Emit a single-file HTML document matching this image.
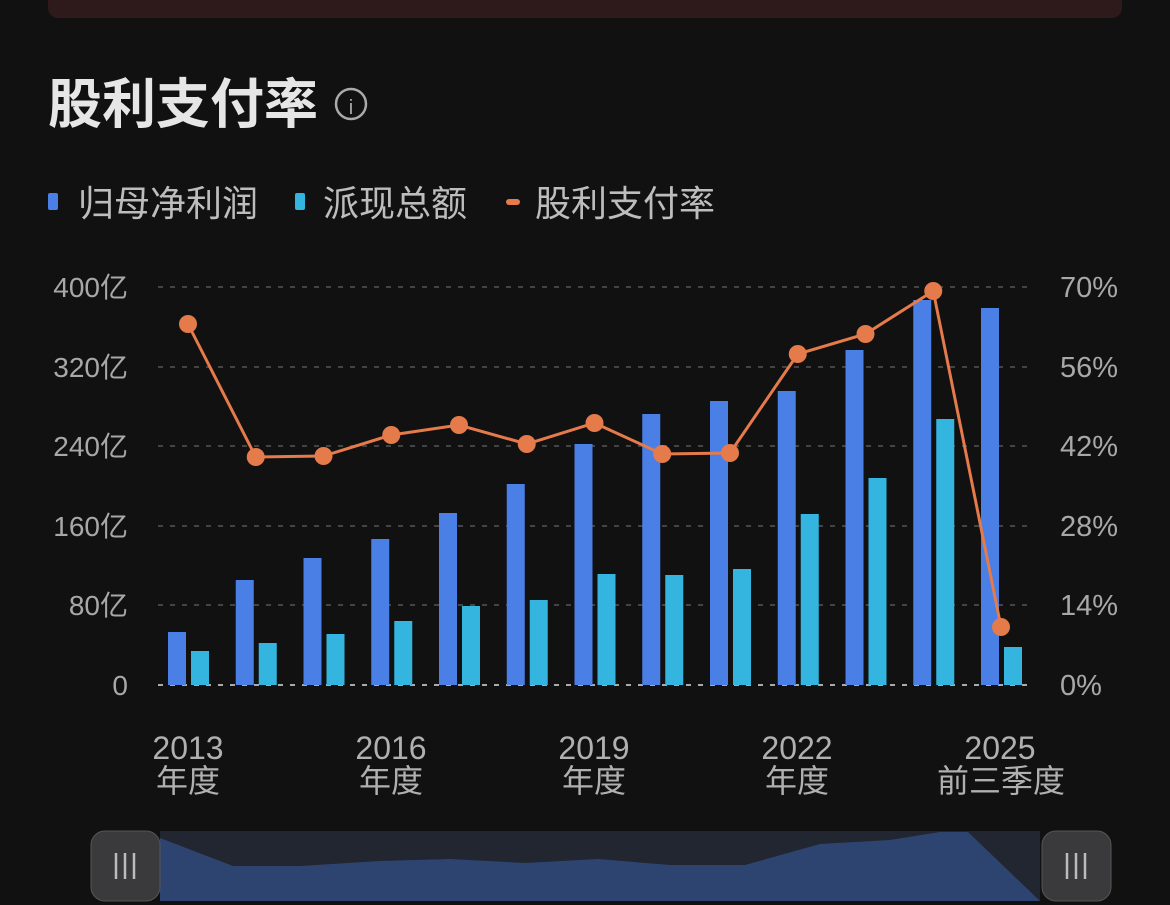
<!DOCTYPE html>
<html><head><meta charset="utf-8"><style>
body{margin:0;background:#111112;width:1170px;height:905px;overflow:hidden;font-family:"Liberation Sans","Noto Sans CJK SC",sans-serif}
</style></head><body>
<svg width="1170" height="905" xmlns="http://www.w3.org/2000/svg" style="position:absolute;left:0;top:0">
<rect x="48" y="-20" width="1074" height="38" rx="10" fill="#2e1a1b"/>
<text x="48" y="123" font-size="54" font-weight="bold" fill="#e6e6e6" font-family="Liberation Sans,Noto Sans CJK SC,sans-serif">股利支付率</text>
<circle cx="351" cy="104" r="15" fill="none" stroke="#aaa" stroke-width="2.5"/>
<text x="351" y="114" font-size="20" fill="#aaa" text-anchor="middle">i</text>
<g font-size="36" fill="#bdbdbd">
<rect x="48" y="193" width="10" height="17" rx="2" fill="#4a7fe6"/><text x="78" y="216">归母净利润</text>
<rect x="295" y="193" width="10" height="17" rx="2" fill="#33b5e0"/><text x="323" y="216">派现总额</text>
<rect x="506" y="199" width="14" height="6" rx="3" fill="#e57a4a"/><text x="535" y="216">股利支付率</text>
</g>
<g stroke="#444" stroke-width="2" stroke-dasharray="5,7">
<line x1="158" y1="287" x2="1032" y2="287"/><line x1="158" y1="367" x2="1032" y2="367"/><line x1="158" y1="446" x2="1032" y2="446"/><line x1="158" y1="526" x2="1032" y2="526"/><line x1="158" y1="605" x2="1032" y2="605"/>
</g>
<line x1="158" y1="685" x2="1032" y2="685" stroke="#aaa" stroke-width="2" stroke-dasharray="5,7"/>
<g font-size="28" fill="#a8a8a8" text-anchor="end">
<text x="128" y="297">400亿</text><text x="128" y="377">320亿</text><text x="128" y="456">240亿</text><text x="128" y="536">160亿</text><text x="128" y="615">80亿</text><text x="128" y="695">0</text>
</g>
<g font-size="29" fill="#a8a8a8">
<text x="1060" y="297">70%</text><text x="1060" y="377">56%</text><text x="1060" y="456">42%</text><text x="1060" y="536">28%</text><text x="1060" y="615">14%</text><text x="1060" y="695">0%</text>
</g>
<g font-size="32" fill="#b0b0b0" text-anchor="middle">
<text x="188" y="759">2013</text><text x="188" y="792">年度</text>
<text x="391" y="759">2016</text><text x="391" y="792">年度</text>
<text x="594" y="759">2019</text><text x="594" y="792">年度</text>
<text x="797" y="759">2022</text><text x="797" y="792">年度</text>
<text x="1000" y="759">2025</text><text x="1001" y="792">前三季度</text>
</g>
<g id="bars"></g>
<polyline id="ln" fill="none" stroke="#e57a4a" stroke-width="3"/>
<g id="dots"></g>
<rect x="160" y="831" width="880" height="70" fill="#222630"/>
<polygon points="160,838 233,866 300,866 380,861 450,859 525,863 598,859 670,865 745,865 820,844 890,840 940,832 968,832 1040,901 160,901" fill="#2e4470"/>
<rect x="91" y="831" width="69" height="70" rx="14" fill="#3a3a3c" stroke="#555" stroke-width="1"/>
<rect x="1042" y="831" width="69" height="70" rx="14" fill="#3a3a3c" stroke="#555" stroke-width="1"/>
<g stroke="#bbb" stroke-width="2.5">
<line x1="116" y1="853" x2="116" y2="879"/><line x1="125" y1="853" x2="125" y2="879"/><line x1="134" y1="853" x2="134" y2="879"/>
<line x1="1067" y1="853" x2="1067" y2="879"/><line x1="1076" y1="853" x2="1076" y2="879"/><line x1="1085" y1="853" x2="1085" y2="879"/>
</g>
</svg>
<script>
var b=[632,580,558,539,513,484,444,414,401,391,350,300,308],c=[651,643,634,621,606,600,574,575,569,514,478,419,647],l=[324,457,456,435,425,444,423,454,453,354,334,291,627];
var ns="http://www.w3.org/2000/svg",g=document.getElementById('bars'),d=document.getElementById('dots'),pts=[];
for(var i=0;i<13;i++){var x=188+67.75*i;
function r(xx,y,f){var e=document.createElementNS(ns,'rect');e.setAttribute('x',xx);e.setAttribute('y',y);e.setAttribute('width',18);e.setAttribute('height',685-y);e.setAttribute('fill',f);g.appendChild(e);}
r(x-20,b[i],'#4a7fe6');r(x+3,c[i],'#33b5e0');pts.push(x+','+l[i]);
var ci=document.createElementNS(ns,'circle');ci.setAttribute('cx',x);ci.setAttribute('cy',l[i]);ci.setAttribute('r',9);ci.setAttribute('fill','#e57a4a');d.appendChild(ci);}
document.getElementById('ln').setAttribute('points',pts.join(' '));
</script>
</body></html>
